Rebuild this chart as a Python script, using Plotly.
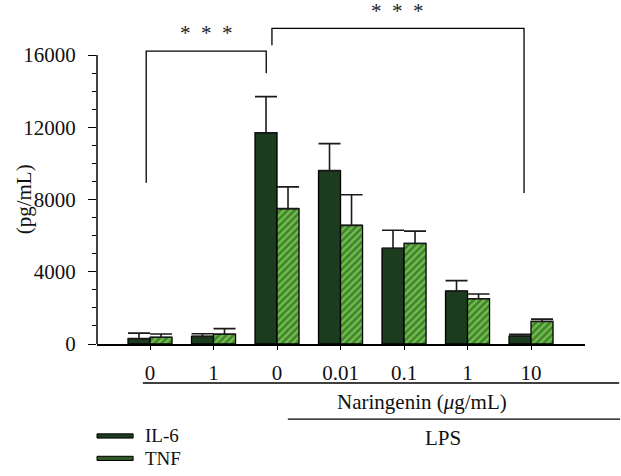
import plotly.graph_objects as go

# ---- data ----
categories = ["0", "1", "0", "0.01", "0.1", "1", "10"]
il6 = [300, 420, 11700, 9600, 5300, 2930, 440]
il6_err = [300, 150, 2000, 1500, 1000, 580, 100]
tnf = [370, 540, 7500, 6570, 5570, 2510, 1250]
tnf_err = [180, 310, 1200, 1700, 680, 260, 130]
y_ticks = [0, 4000, 8000, 12000, 16000]
y_minor = [v for v in range(1000, 16000, 1000) if v % 4000]

# bracket definitions (data coords): x-left, x-right, y-top, y-left-end, y-right-end
brackets = [
    dict(x0=-0.06, x1=1.83, top=16220, yl=8930, yr=14990, star_y=17250),
    dict(x0=1.92, x1=5.89, top=17480, yl=16550, yr=8360, star_y=18430),
]

YMAX = 18000
FONT = "Liberation Serif"
FS = 21
IL6_COLOR = "#1b3c1e"
TNF_BG = "#6cbf47"
TNF_FG = "#1e3d1d"

x = list(range(len(categories)))

fig = go.Figure()
fig.add_trace(go.Bar(
    x=x, y=il6, name="IL-6",
    marker=dict(color=IL6_COLOR, line=dict(color="#000000", width=1.3)),
    error_y=dict(type="data", symmetric=False, array=il6_err,
                 arrayminus=[0] * len(il6), color="#1a1a1a", thickness=1.6, width=11),
))
fig.add_trace(go.Bar(
    x=x, y=tnf, name="TNF",
    marker=dict(color=TNF_BG, line=dict(color="#000000", width=1.3),
                pattern=dict(shape="/", fgcolor=TNF_FG, bgcolor=TNF_BG,
                             size=5, solidity=0.5, fillmode="overlay")),
    error_y=dict(type="data", symmetric=False, array=tnf_err,
                 arrayminus=[0] * len(tnf), color="#1a1a1a", thickness=1.6, width=11),
))

shapes = []
annotations = []
# y axis line (only up to 16000)
shapes.append(dict(type="line", xref="paper", yref="y", x0=0, x1=0,
                   y0=0, y1=max(y_ticks), line=dict(color="#000", width=1.5)))
for b in brackets:
    shapes.append(dict(type="path", xref="x", yref="y",
                       path=f"M {b['x0']},{b['yl']} L {b['x0']},{b['top']} L {b['x1']},{b['top']} L {b['x1']},{b['yr']}",
                       line=dict(color="#000", width=1.3)))
    annotations.append(dict(x=(b["x0"] + b["x1"]) / 2, xref="x",
                            y=b["star_y"] / YMAX, yref="paper",
                            text="*  *  *", showarrow=False,
                            font=dict(family=FONT, size=21, color="#222"),
                            xanchor="center", yanchor="middle"))

# group lines below the axis
shapes.append(dict(type="line", xref="paper", yref="paper", x0=0.094, x1=1.07,
                   y0=-0.12, y1=-0.12, line=dict(color="#000", width=1.3)))
shapes.append(dict(type="line", xref="paper", yref="paper", x0=0.391, x1=1.072,
                   y0=-0.231, y1=-0.231, line=dict(color="#000", width=1.3)))
annotations.append(dict(x=0.666, y=-0.177, xref="paper", yref="paper",
                        text="Naringenin (<i>μ</i>g/mL)", showarrow=False,
                        font=dict(family=FONT, size=FS, color="#111"),
                        xanchor="center", yanchor="middle"))
annotations.append(dict(x=0.709, y=-0.289, xref="paper", yref="paper",
                        text="LPS", showarrow=False,
                        font=dict(family=FONT, size=FS, color="#111"),
                        xanchor="center", yanchor="middle"))
# y title
annotations.append(dict(x=-0.15, y=8000 / YMAX, xref="paper", yref="paper",
                        text="(pg/mL)", textangle=-90, showarrow=False,
                        font=dict(family=FONT, size=FS, color="#111"),
                        xanchor="center", yanchor="middle"))

# legend (manual)
legend_items = [("IL-6", -0.283, IL6_COLOR), ("TNF", -0.352, "#2f5a25")]
for name, yp, col in legend_items:
    shapes.append(dict(type="rect", xref="paper", yref="paper",
                       x0=0.0, x1=0.074, y0=yp - 0.0065, y1=yp + 0.0065,
                       fillcolor=col, line=dict(color="#000", width=1)))
    annotations.append(dict(x=0.094, y=yp, xref="paper", yref="paper",
                            text=name, showarrow=False,
                            font=dict(family=FONT, size=19, color="#111"),
                            xanchor="left", yanchor="middle"))

fig.update_layout(
    width=621, height=476,
    margin=dict(l=97, r=36, t=19, b=132),
    paper_bgcolor="white", plot_bgcolor="white",
    barmode="group", bargap=0.307, bargroupgap=0,
    showlegend=False,
    font=dict(family=FONT, size=FS, color="#111"),
    shapes=shapes, annotations=annotations,
    xaxis=dict(range=[-0.835, 6.85], tickmode="array", tickvals=x, ticktext=categories,
               showline=True, linecolor="#000", linewidth=1.5, ticks="outside",
               ticklen=4, tickcolor="#000", tickwidth=1.2, showgrid=False, zeroline=False,
               tickfont=dict(family=FONT, size=FS, color="#111"), ticklabelstandoff=5),
    yaxis=dict(range=[0, YMAX], tickmode="array", tickvals=y_ticks,
               ticktext=[str(v) for v in y_ticks],
               showline=False, ticks="outside", ticklen=8, tickcolor="#000", tickwidth=1.2,
               minor=dict(tickmode="array", tickvals=y_minor, ticks="outside", ticklen=4,
                          tickcolor="#000", tickwidth=1.2, showgrid=False),
               showgrid=False, zeroline=False,
               tickfont=dict(family=FONT, size=FS, color="#111"), ticklabelstandoff=8),
)

fig.write_html("out.html")
